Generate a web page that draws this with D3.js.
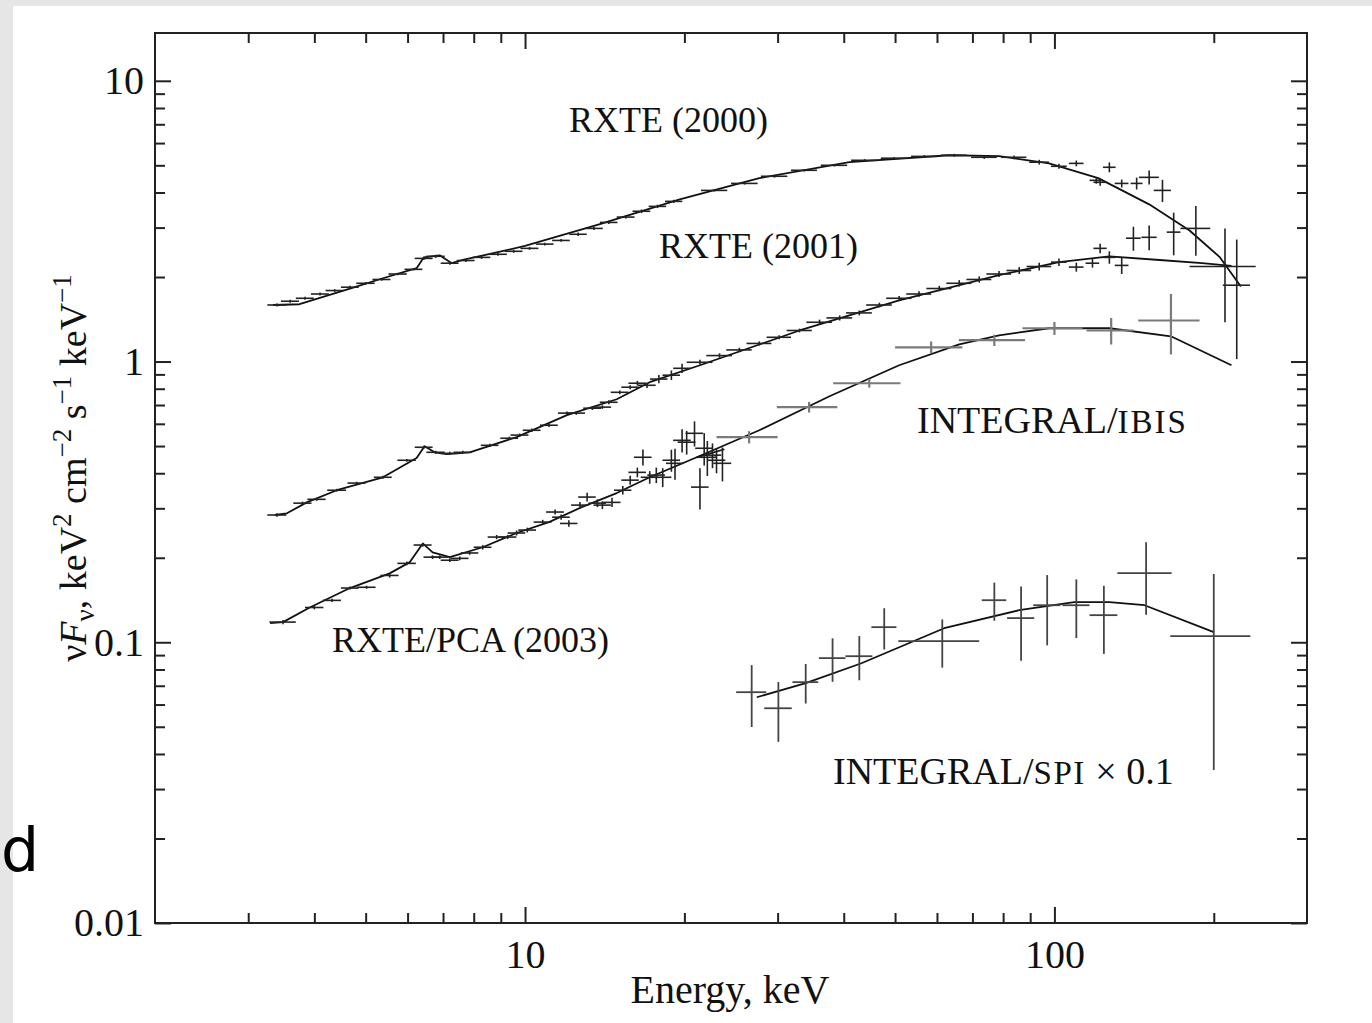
<!DOCTYPE html>
<html>
<head>
<meta charset="utf-8">
<script src="https://cdn.jsdelivr.net/npm/d3@7"></script>
<style>
  html, body { margin: 0; padding: 0; background: #e6e6e6; }
  svg { display: block; }
</style>
</head>
<body>
<svg id="chart" width="1372" height="1023"></svg>
<script>
// axis ticks
const xMajor = [10, 100];
const xMinor = [3, 4, 5, 6, 7, 8, 9, 20, 30, 40, 50, 60, 70, 80, 90, 200];
const yMajor = [0.01, 0.1, 1, 10];
const yMinor = [0.02, 0.03, 0.04, 0.05, 0.06, 0.07, 0.08, 0.09,
                0.2, 0.3, 0.4, 0.5, 0.6, 0.7, 0.8, 0.9,
                2, 3, 4, 5, 6, 7, 8, 9];

// data rows: [energy keV, half bin width keV, nuFnu, error]
const rxte2000 = [
  [3.40, 0.14, 1.59, 0.02], [3.60, 0.14, 1.64, 0.02], [3.84, 0.15, 1.68, 0.02],
  [4.10, 0.16, 1.74, 0.02], [4.37, 0.17, 1.79, 0.02], [4.67, 0.18, 1.84, 0.02],
  [5.00, 0.20, 1.90, 0.02], [5.36, 0.21, 1.96, 0.02], [5.75, 0.23, 2.05, 0.02],
  [6.16, 0.24, 2.13, 0.02], [6.44, 0.25, 2.33, 0.03], [6.78, 0.27, 2.37, 0.03],
  [7.21, 0.28, 2.24, 0.03], [7.73, 0.30, 2.29, 0.03], [8.28, 0.32, 2.35, 0.03],
  [8.89, 0.35, 2.41, 0.03], [9.52, 0.37, 2.47, 0.03], [10.2, 0.40, 2.53, 0.03],
  [10.9, 0.42, 2.62, 0.03], [11.7, 0.45, 2.70, 0.03], [12.6, 0.48, 2.84, 0.04],
  [13.5, 0.52, 2.98, 0.04], [14.4, 0.55, 3.13, 0.04], [15.5, 0.60, 3.27, 0.04],
  [16.6, 0.64, 3.43, 0.05], [17.8, 0.68, 3.57, 0.05], [19.1, 0.72, 3.72, 0.05],
  [22.8, 1.3, 4.07, 0.04], [26.0, 1.5, 4.31, 0.04], [29.6, 1.7, 4.57, 0.05],
  [33.7, 1.9, 4.80, 0.05], [38.4, 2.2, 5.00, 0.05], [43.8, 2.5, 5.21, 0.05],
  [49.8, 2.8, 5.30, 0.05], [56.8, 3.2, 5.38, 0.06], [64.7, 3.6, 5.43, 0.06],
  [73.7, 4.1, 5.34, 0.07], [83.9, 4.6, 5.34, 0.08], [93.6, 4.0, 5.13, 0.10],
  [102, 3.5, 4.96, 0.10], [110, 3.5, 5.08, 0.12], [120, 3.5, 4.42, 0.12],
  [122, 3.5, 4.35, 0.12], [127, 3.5, 4.92, 0.20], [134, 4.0, 4.31, 0.14],
  [143, 3.7, 4.31, 0.21], [151, 6.5, 4.53, 0.26], [160, 6.0, 4.07, 0.37],
  [185, 12, 2.98, 0.60], [210, 30, 2.18, 0.80]
];

const rxte2001 = [
  [3.40, 0.14, 0.284, 0.004], [3.80, 0.15, 0.313, 0.004], [4.04, 0.16, 0.323, 0.004],
  [4.41, 0.18, 0.348, 0.004], [4.81, 0.19, 0.369, 0.004], [5.39, 0.21, 0.387, 0.005],
  [5.98, 0.24, 0.445, 0.005], [6.44, 0.25, 0.495, 0.006], [6.78, 0.27, 0.475, 0.006],
  [7.21, 0.28, 0.471, 0.006], [7.63, 0.30, 0.475, 0.006], [8.58, 0.33, 0.503, 0.007],
  [9.34, 0.36, 0.533, 0.007], [9.77, 0.38, 0.547, 0.007], [10.3, 0.40, 0.569, 0.008],
  [11.1, 0.43, 0.593, 0.008], [12.0, 0.46, 0.655, 0.009], [12.5, 0.48, 0.655, 0.009],
  [13.4, 0.52, 0.682, 0.010], [14.0, 0.54, 0.688, 0.010], [14.4, 0.56, 0.716, 0.012],
  [15.1, 0.58, 0.777, 0.012], [15.8, 0.60, 0.810, 0.014], [16.3, 0.62, 0.837, 0.016],
  [17.0, 0.65, 0.823, 0.018], [17.9, 0.68, 0.866, 0.030], [18.9, 0.72, 0.894, 0.035],
  [19.8, 0.75, 0.946, 0.035], [21.4, 1.2, 0.994, 0.02], [23.3, 1.3, 1.05, 0.02],
  [25.4, 1.4, 1.10, 0.02], [27.7, 1.5, 1.16, 0.02], [30.2, 1.6, 1.22, 0.02],
  [33.0, 1.8, 1.29, 0.02], [36.0, 2.0, 1.38, 0.03], [39.3, 2.2, 1.43, 0.03],
  [42.8, 2.4, 1.49, 0.03], [46.7, 2.6, 1.59, 0.03], [50.9, 2.8, 1.68, 0.03],
  [55.5, 3.0, 1.74, 0.04], [60.6, 3.3, 1.82, 0.04], [66.1, 3.6, 1.90, 0.05],
  [72.1, 3.9, 1.96, 0.05], [78.6, 4.2, 2.05, 0.05], [85.8, 4.6, 2.11, 0.06],
  [93.6, 5.0, 2.18, 0.07], [102, 3.5, 2.26, 0.07], [110, 3.5, 2.17, 0.08],
  [118, 3.5, 2.24, 0.08], [122, 3.5, 2.53, 0.10], [127, 3.5, 2.35, 0.12],
  [134, 4.0, 2.20, 0.15], [141, 4.5, 2.75, 0.27], [151, 5.0, 2.77, 0.28],
  [168, 5.0, 2.89, 0.50], [221, 13, 1.87, 0.85]
];

const rxte2003 = [
  [3.49, 0.20, 0.118, 0.002], [4.00, 0.16, 0.133, 0.002], [4.32, 0.17, 0.141, 0.002],
  [4.67, 0.18, 0.156, 0.002], [5.02, 0.20, 0.157, 0.002], [5.55, 0.22, 0.173, 0.003],
  [5.98, 0.24, 0.191, 0.003], [6.41, 0.25, 0.222, 0.003], [6.69, 0.26, 0.201, 0.003],
  [6.90, 0.27, 0.201, 0.003], [7.21, 0.28, 0.196, 0.003], [7.53, 0.29, 0.199, 0.003],
  [7.86, 0.30, 0.208, 0.003], [8.32, 0.32, 0.218, 0.004], [8.84, 0.34, 0.237, 0.004],
  [9.27, 0.36, 0.237, 0.004], [9.64, 0.37, 0.245, 0.005], [10.1, 0.39, 0.251, 0.005],
  [10.8, 0.42, 0.268, 0.005], [11.4, 0.44, 0.291, 0.006], [11.7, 0.45, 0.279, 0.006],
  [12.1, 0.46, 0.265, 0.007], [12.7, 0.48, 0.308, 0.008], [13.1, 0.50, 0.329, 0.012],
  [13.7, 0.52, 0.313, 0.010], [14.0, 0.53, 0.308, 0.010], [14.6, 0.55, 0.315, 0.012],
  [15.3, 0.58, 0.348, 0.012], [15.8, 0.60, 0.378, 0.014], [16.3, 0.62, 0.403, 0.016],
  [16.7, 0.64, 0.456, 0.030], [17.2, 0.66, 0.387, 0.020], [17.7, 0.68, 0.394, 0.025],
  [18.2, 0.70, 0.387, 0.030], [18.9, 0.72, 0.445, 0.040], [19.2, 0.74, 0.434, 0.055],
  [19.8, 0.76, 0.524, 0.050], [20.2, 0.78, 0.516, 0.050], [20.9, 0.80, 0.555, 0.057],
  [21.4, 0.82, 0.357, 0.060], [21.8, 0.84, 0.491, 0.065], [22.1, 0.86, 0.456, 0.065],
  [22.6, 0.88, 0.464, 0.047], [23.0, 0.90, 0.445, 0.045], [23.6, 0.92, 0.434, 0.060]
];

const ibis = [
  [26.5, 3.5, 0.538, 0.027], [34.4, 4.5, 0.688, 0.030], [44.7, 6.5, 0.837, 0.030],
  [58.5, 8.5, 1.124, 0.055], [77.0, 11, 1.191, 0.055], [100, 13, 1.314, 0.070],
  [128, 13, 1.29, 0.14], [166, 22, 1.40, 0.34]
];

// SPI flux already multiplied by 0.1
const spi = [
  [26.8, 1.75, 0.0664, 0.0165], [30.1, 1.8, 0.0582, 0.0140], [33.9, 1.9, 0.0721, 0.0116],
  [38.1, 2.2, 0.0878, 0.0155], [42.8, 2.5, 0.0892, 0.0160], [47.7, 2.6, 0.1132, 0.0190],
  [61.4, 10.7, 0.1009, 0.0197], [77.0, 4.1, 0.1412, 0.0219], [86.5, 5.1, 0.1219, 0.0360],
  [96.9, 5.7, 0.1355, 0.0380], [110, 6.5, 0.1355, 0.0320], [124, 7.5, 0.1249, 0.0340],
  [149, 17.5, 0.1762, 0.0510], [200, 34.5, 0.1051, 0.0700]
];

// model curves: [energy keV, nuFnu]
const model2000 = [
  [3.34, 1.59], [3.75, 1.60], [4.67, 1.82], [5.39, 1.98], [6.24, 2.15], [6.44, 2.35],
  [6.90, 2.39], [7.27, 2.24], [7.63, 2.30], [10.0, 2.58], [13.8, 3.08], [19.6, 3.78],
  [27.7, 4.50], [41.0, 5.13], [63.3, 5.43], [78.6, 5.39], [97.7, 5.08], [121, 4.50],
  [151, 3.63], [180, 2.93], [205, 2.36], [225, 1.85]
];
const model2001 = [
  [3.37, 0.284], [3.55, 0.288], [3.87, 0.315], [4.41, 0.348], [5.39, 0.387], [6.24, 0.453],
  [6.46, 0.499], [6.75, 0.475], [7.11, 0.468], [7.86, 0.475], [9.64, 0.538], [12.0, 0.644],
  [14.9, 0.734], [17.2, 0.844], [21.4, 0.970], [33.0, 1.29], [50.9, 1.65], [78.6, 2.03],
  [102, 2.26], [127, 2.37], [158, 2.30], [190, 2.24], [216, 2.19]
];
const model2003 = [
  [3.30, 0.117], [3.49, 0.118], [3.92, 0.133], [4.67, 0.156], [5.55, 0.176], [6.06, 0.193],
  [6.41, 0.225], [6.69, 0.209], [7.21, 0.201], [8.32, 0.218], [9.64, 0.245], [11.1, 0.268],
  [12.8, 0.303], [14.9, 0.340], [17.2, 0.387], [21.1, 0.456], [23.8, 0.487]
];
const modelIbis = [
  [21.1, 0.456], [27.7, 0.569], [37.6, 0.752], [50.9, 0.970], [66.1, 1.152], [78.6, 1.240],
  [97.7, 1.314], [127, 1.314], [166, 1.230], [216, 0.970]
];
const modelSpi = [
  [27.4, 0.0637], [33.9, 0.0715], [43.2, 0.0842], [61.9, 0.1122], [85.8, 0.1301],
  [109, 0.1389], [127, 0.1389], [148, 0.1355], [200, 0.1086]
];

const svg = d3.select("#chart");
const serif = '"Liberation Serif", "Times New Roman", serif';

// page: grey strip with white slide area
svg.append("rect").attr("x", 13).attr("y", 6).attr("width", 1359).attr("height", 1017)
    .attr("fill", "#fff");
svg.append("text").attr("x", 39).attr("y", 871).attr("text-anchor", "end")
    .attr("font-family", '"DejaVu Sans", sans-serif').attr("font-size", 60)
    .attr("fill", "#000").text("d");

const L = 155, R = 1307, T = 33, B = 923;
const x = d3.scaleLog().domain([2, 300]).range([L, R]);
const y = d3.scaleLog().domain([0.01, 14.8]).range([B, T]);

// ticks on all four sides, pointing inward
function ticks(axis, tx, ty) {
  const g = svg.append("g").attr("transform", `translate(${tx},${ty})`).call(axis);
  g.select(".domain").remove();
  g.selectAll(".tick line").attr("stroke", "#222").attr("stroke-width", 2);
  g.selectAll("text").attr("font-family", serif).attr("font-size", 40).attr("fill", "#111");
  return g;
}
const none = () => "";
ticks(d3.axisBottom(x).tickValues(xMinor).tickSize(-10).tickFormat(none), 0, B);
ticks(d3.axisTop(x).tickValues(xMinor).tickSize(-10).tickFormat(none), 0, T);
ticks(d3.axisBottom(x).tickValues(xMajor).tickSize(-16).tickPadding(17).tickFormat(d => String(d)), 0, B);
ticks(d3.axisTop(x).tickValues(xMajor).tickSize(-16).tickFormat(none), 0, T);
ticks(d3.axisLeft(y).tickValues(yMinor).tickSize(-10).tickFormat(none), L, 0);
ticks(d3.axisRight(y).tickValues(yMinor).tickSize(-10).tickFormat(none), R, 0);
ticks(d3.axisLeft(y).tickValues(yMajor).tickSize(-16).tickPadding(11).tickFormat(d => String(d)), L, 0);
ticks(d3.axisRight(y).tickValues(yMajor).tickSize(-16).tickFormat(none), R, 0);

svg.append("rect").attr("x", L).attr("y", T).attr("width", R - L).attr("height", B - T)
    .attr("fill", "none").attr("stroke", "#222").attr("stroke-width", 2);

// model lines
const line = d3.line().x(d => x(d[0])).y(d => y(d[1]));
[model2000, model2001, model2003, modelIbis, modelSpi].forEach(m => {
  svg.append("path").datum(m).attr("d", line)
      .attr("fill", "none").attr("stroke", "#111").attr("stroke-width", 1.8)
      .attr("stroke-linejoin", "round");
});

// data crosses
function crosses(rows, color, width) {
  const g = svg.append("g").attr("stroke", color).attr("stroke-width", width);
  g.selectAll("line.h").data(rows).join("line").attr("class", "h")
      .attr("x1", d => x(d[0] - d[1])).attr("x2", d => x(d[0] + d[1]))
      .attr("y1", d => y(d[2])).attr("y2", d => y(d[2]));
  g.selectAll("line.v").data(rows).join("line").attr("class", "v")
      .attr("x1", d => x(d[0])).attr("x2", d => x(d[0]))
      .attr("y1", d => y(d[2] - d[3])).attr("y2", d => y(d[2] + d[3]));
}
crosses(rxte2000, "#222", 1.6);
crosses(rxte2001, "#222", 1.6);
crosses(rxte2003, "#222", 1.6);
crosses(ibis, "#7a7a7a", 2.2);
crosses(spi, "#444", 1.8);

// annotations
function label(px, py, parts) {
  const t = svg.append("text").attr("x", px).attr("y", py)
      .attr("font-family", serif).attr("font-size", 36).attr("fill", "#111");
  parts.forEach(p => {
    const s = t.append("tspan").attr("font-size", p[1]).text(p[0]);
    if (p[2]) s.attr("letter-spacing", p[2]);
  });
}
label(569, 132, [["RXTE (2000)", 36]]);
label(659, 258, [["RXTE (2001)", 36]]);
label(917, 433, [["INTEGRAL/", 38], ["IBIS", 33, 2]]);
label(332, 652, [["RXTE/PCA (2003)", 36]]);
label(833, 784, [["INTEGRAL/", 38], ["SPI", 33, 1.5], [" \u00d7 0.1", 38]]);

// axis titles
svg.append("text").attr("x", (L + R) / 2 - 1).attr("y", 1003).attr("text-anchor", "middle")
    .attr("font-family", serif).attr("font-size", 40).attr("fill", "#111").text("Energy, keV");

const yt = svg.append("text").attr("transform", "translate(86,468) rotate(-90)")
    .attr("text-anchor", "middle").attr("font-family", serif).attr("font-size", 38)
    .attr("fill", "#111");
const sub = 27;
[["\u03bd", 0, null], ["F", 0, "italic"], ["\u03bd", 8, null, sub], [", keV", -8, null],
 ["2", -15, null, sub], [" cm", 15, null], ["\u22122", -15, null, sub], [" s", 15, null],
 ["\u22121", -15, null, sub], [" keV", 15, null], ["\u22121", -15, null, sub]]
  .forEach(p => {
    const s = yt.append("tspan").attr("dy", p[1]).text(p[0]);
    if (p[2]) s.attr("font-style", p[2]);
    if (p[3]) s.attr("font-size", p[3]);
  });
</script>
</body>
</html>
